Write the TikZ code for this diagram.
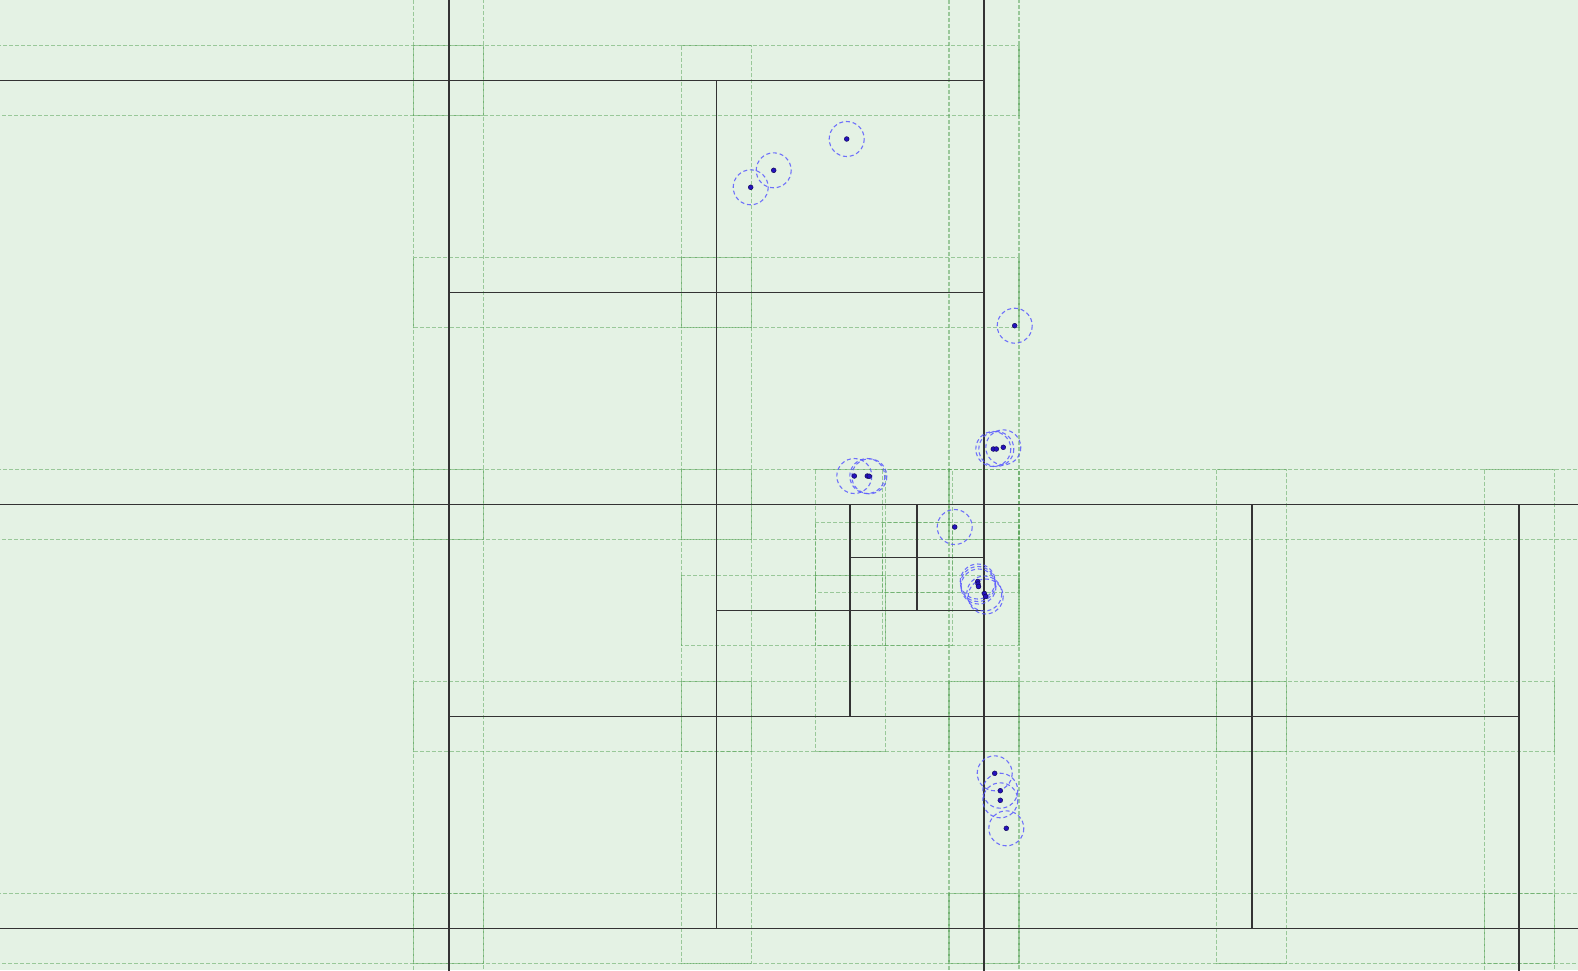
\documentclass[tikz,border=0pt]{standalone}
\begin{document}
\begin{tikzpicture}[x=0.5pt,y=-0.5pt,
  bgcol/.style={fill={rgb,255:red,228;green,242;blue,228}},
  cellline/.style={draw={rgb,255:red,51;green,51;blue,51},line width=0.85pt},
  loosebox/.style={draw={rgb,255:red,80;green,160;blue,80},draw opacity=0.5,line width=0.55pt,dash pattern=on 2pt off 1pt},
  ptcircle/.style={draw={rgb,255:red,90;green,90;blue,255},draw opacity=0.85,line width=0.55pt,dash pattern=on 2pt off 1.4pt},
  ptdot/.style={fill={rgb,255:red,36;green,18;blue,190},draw={rgb,255:red,20;green,10;blue,90},line width=0.25pt}]
\useasboundingbox (0,0) rectangle (1578,970);
\clip (0,0) rectangle (1578,970);
\path[bgcol] (0,0) rectangle (1578,970);
\def\GX{448.7}\def\GW{267.65}\def\GY{80.6}\def\GH{212}\def\MG{35}
% leaf cells of the loose quadtree, in grid units
\foreach \a/\b/\c/\d in {-2/-2/0/0, 0/-2/2/0, -2/0/0/2, 0/0/1/1, 1/0/2/1, 0/1/1/2, 1/1/2/2,
   2/-2/6/2, -2/2/0/4, 0/2/1/3, 1/2/1.5/2.5,
   1.5/2/1.75/2.25, 1.75/2/2/2.25, 1.5/2.25/1.75/2.5, 1.75/2.25/2/2.5,
   1/2.5/1.5/3, 1.5/2.5/2/3, 0/3/1/4, 1/3/2/4, -2/4/0/6, 0/4/2/6,
   2/2/3/3, 3/2/4/3, 2/3/3/4, 3/3/4/4, 4/2/6/4, 2/4/4/6, 4/4/6/6}{
  \draw[loosebox] ({\GX+\a*\GW-\MG},{\GY+\b*\GH-\MG}) rectangle ({\GX+\c*\GW+\MG},{\GY+\d*\GH+\MG});
}
\foreach \a/\b/\c/\d in {-2/-2/0/0, 0/-2/2/0, -2/0/0/2, 0/0/1/1, 1/0/2/1, 0/1/1/2, 1/1/2/2,
   2/-2/6/2, -2/2/0/4, 0/2/1/3, 1/2/1.5/2.5,
   1.5/2/1.75/2.25, 1.75/2/2/2.25, 1.5/2.25/1.75/2.5, 1.75/2.25/2/2.5,
   1/2.5/1.5/3, 1.5/2.5/2/3, 0/3/1/4, 1/3/2/4, -2/4/0/6, 0/4/2/6,
   2/2/3/3, 3/2/4/3, 2/3/3/4, 3/3/4/4, 4/2/6/4, 2/4/4/6, 4/4/6/6}{
  \draw[cellline] ({\GX+\a*\GW},{\GY+\b*\GH}) rectangle ({\GX+\c*\GW},{\GY+\d*\GH});
}
% points
\foreach \px/\py [count=\i] in {750.7/187.3, 773.7/170.3, 846.7/139, 1014.7/325.7,
   993.3/449, 996.3/449, 1003.3/447.3, 854.3/476, 867.3/476, 869.3/476.3,
   954.7/527, 977.7/581.5, 978/584, 978.5/586.5, 984.3/593.5, 985.7/596.5,
   994.7/773.3, 1000.3/790.7, 1000.3/800.3, 1006.3/828.3}{
  \coordinate (p\i) at (\px,\py);
  \draw[ptcircle] (p\i) circle[radius=17.5];
}
\foreach \i in {1,...,20}{
  \path[ptdot] (p\i) circle[radius=2.4];
}
\end{tikzpicture}
\end{document}
